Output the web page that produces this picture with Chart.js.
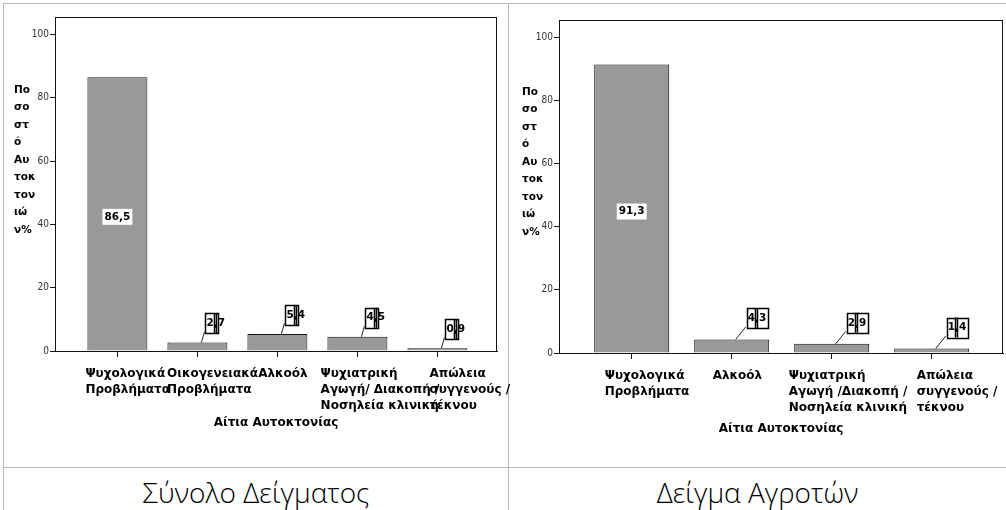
<!DOCTYPE html>
<html>
<head>
<meta charset="utf-8">
<script src="https://cdn.jsdelivr.net/npm/chart.js@4.4.1/dist/chart.umd.min.js"></script>
<style>
  body { margin: 0; background: #fff; width: 1006px; height: 510px; overflow: hidden; position: relative; }
  canvas { position: absolute; left: 0; top: 0; }
  .rule { position: absolute; background: #b9b9b9; }
  .caption { position: absolute; top: 475px; height: 34px; line-height: 34px; text-align: center;
             font-family: 'Open Sans', 'Noto Sans', sans-serif; font-weight: 300; font-size: 28px; color: #000; }
</style>
</head>
<body>
<div class="rule" style="left:3px;top:3px;width:1003px;height:1px"></div>
<div class="rule" style="left:3px;top:3px;width:1px;height:507px"></div>
<div class="rule" style="left:508px;top:3px;width:1px;height:507px"></div>
<div class="rule" style="left:3px;top:467px;width:1003px;height:1px"></div>
<div class="caption" id="cap0" style="left:4px;width:504px"></div>
<div class="caption" id="cap1" style="left:509px;width:497px"></div>
<canvas id="totalChart" width="1006" height="510"></canvas>
<canvas id="farmerChart" width="1006" height="510"></canvas>
<script>
// data
const totalCategories = [
  ['Ψυχολογικά', 'Προβλήματα'],
  ['Οικογενειακά', 'Προβλήματα'],
  ['Αλκοόλ'],
  ['Ψυχιατρική', 'Αγωγή/ Διακοπή /', 'Νοσηλεία κλινική'],
  ['Απώλεια', 'συγγενούς /', 'τέκνου'],
]
const totalValues = [86.5, 2.7, 5.4, 4.5, 0.9]

const farmerCategories = [
  ['Ψυχολογικά', 'Προβλήματα'],
  ['Αλκοόλ'],
  ['Ψυχιατρική', 'Αγωγή /Διακοπή /', 'Νοσηλεία κλινική'],
  ['Απώλεια', 'συγγενούς /', 'τέκνου'],
]
const farmerValues = [91.3, 4.3, 2.9, 1.4]

const yTitleLines = ['Πο', 'σο', 'στ', 'ό', 'Αυ', 'τοκ', 'τον', 'ιώ', 'ν%']
const xTitle = 'Αίτια Αυτοκτονίας'
const panelCaptions = ['Σύνολο Δείγματος', 'Δείγμα Αγροτών']

document.getElementById('cap0').textContent = panelCaptions[0]
document.getElementById('cap1').textContent = panelCaptions[1]

const boldFont = "'DejaVu Sans', 'Noto Sans', sans-serif"

// placement of each panel on the page
const totalLayout = {
  padding: { left: 0, right: 509, top: 17, bottom: 79 },
  yWidth: 55, xMin: -0.78, xMax: 4.745, yMax: 105.5, labelBoxHeight: 74,
  labelAt: [-0.4, 0.62, 1.76, 2.54, 3.9],
  yTitleX: 14, yTitleY: 90,
  noteDx: 9, noteDy: -19, noteBoxChars: 2,
}
const farmerLayout = {
  padding: { left: 0, right: 3, top: 20, bottom: 73 },
  yWidth: 559, xMin: -0.727, xMax: 3.713, yMax: 105.4, labelBoxHeight: 78,
  labelAt: [-0.27, 0.81, 1.57, 2.85],
  yTitleX: 522, yTitleY: 92,
  noteDx: 16, noteDy: -21, noteBoxChars: 3,
}

function extrasPlugin(lay) {
  return {
    id: 'panelExtras',
    afterDatasetsDraw(chart) {
      const ctx = chart.ctx
      const area = chart.chartArea
      ctx.save()

      // plot frame
      ctx.strokeStyle = '#111'
      ctx.lineWidth = 1
      ctx.strokeRect(Math.round(area.left) + 0.5, Math.round(area.top) + 0.5,
        Math.round(area.right - area.left) - 1, Math.round(area.bottom - area.top))

      // stacked y-axis title
      ctx.fillStyle = '#000'
      ctx.font = 'bold 10.5px ' + boldFont
      ctx.textAlign = 'left'
      ctx.textBaseline = 'middle'
      yTitleLines.forEach((line, i) => {
        ctx.fillText(line, lay.yTitleX, lay.yTitleY + i * 17.5)
      })

      // value labels
      ctx.font = 'bold 10.5px ' + boldFont
      const meta = chart.getDatasetMeta(0)
      meta.data.forEach((bar, i) => {
        const v = chart.data.datasets[0].data[i].y
        const txt = v.toFixed(1).replace('.', ',')
        const w = ctx.measureText(txt).width
        if (v > 20) {
          const cy = (bar.y + bar.base) / 2 + 3
          ctx.fillStyle = '#fff'
          ctx.fillRect(bar.x - w / 2 - 2, cy - 8, w + 4, 16)
          ctx.fillStyle = '#000'
          ctx.textAlign = 'center'
          ctx.fillText(txt, bar.x, cy)
        } else {
          const tx = bar.x + lay.noteDx
          const cy = bar.y + lay.noteDy
          ctx.strokeStyle = '#222'
          ctx.lineWidth = 1
          ctx.beginPath()
          ctx.moveTo(bar.x + 4, bar.y)
          ctx.lineTo(tx - 2, cy + 8.5)
          ctx.stroke()
          ctx.fillStyle = '#000'
          ctx.textAlign = 'left'
          ctx.fillText(txt, tx, cy)
          const firstW = ctx.measureText(txt.slice(0, 1)).width
          const boxW = ctx.measureText(txt.slice(0, lay.noteBoxChars)).width
          ctx.strokeStyle = '#000'
          ctx.lineWidth = 1.5
          ctx.strokeRect(Math.round(tx - 1) + 0.5, Math.round(cy - 10) + 0.5, Math.round(boxW + 2), 20)
          ctx.beginPath()
          ctx.moveTo(Math.round(tx + firstW) + 0.5, cy - 10)
          ctx.lineTo(Math.round(tx + firstW) + 0.5, cy + 10)
          ctx.moveTo(Math.round(tx + firstW) + 2.5, cy - 10)
          ctx.lineTo(Math.round(tx + firstW) + 2.5, cy + 10)
          ctx.stroke()
        }
      })
      ctx.restore()
    },
  }
}

function drawPanel(canvasId, categories, values, lay) {
  new Chart(document.getElementById(canvasId).getContext('2d'), {
    type: 'bar',
    data: {
      datasets: [
        {
          data: values.map((v, i) => ({ x: i, y: v })),
          backgroundColor: '#999999',
          borderColor: '#111',
          borderWidth: 1,
          barPercentage: 0.75,
          categoryPercentage: 1,
        },
      ],
    },
    options: {
      responsive: false,
      animation: false,
      devicePixelRatio: 1,
      layout: { padding: lay.padding },
      plugins: { legend: { display: false }, tooltip: { enabled: false } },
      scales: {
        x: {
          type: 'linear',
          position: 'bottom',
          weight: 0,
          offset: false,
          min: lay.xMin,
          max: lay.xMax,
          ticks: { display: false, stepSize: 1, includeBounds: false, autoSkip: false },
          grid: { offset: false, drawOnChartArea: false, drawTicks: true, tickLength: 6, tickColor: '#111' },
          border: { display: true, color: '#111', width: 1 },
          afterFit: (scale) => { scale.height = 6 },
        },
        xl: {
          type: 'linear',
          position: 'bottom',
          weight: 1,
          offset: false,
          min: lay.xMin,
          max: lay.xMax,
          afterBuildTicks: (scale) => { scale.ticks = lay.labelAt.map((v) => ({ value: v })) },
          ticks: {
            align: 'start',
            autoSkip: false,
            maxRotation: 0,
            padding: 1,
            color: '#000',
            font: { family: boldFont, size: 12, weight: 'bold', lineHeight: '16px' },
            callback: (value, index) => categories[index],
          },
          grid: { display: false, offset: false },
          border: { display: false },
          title: {
            display: true,
            text: xTitle,
            color: '#000',
            padding: 0,
            font: { family: boldFont, size: 12, weight: 'bold', lineHeight: '16px' },
          },
          afterFit: (scale) => { scale.height = lay.labelBoxHeight },
        },
        y: {
          min: 0,
          max: lay.yMax,
          ticks: {
            stepSize: 20,
            includeBounds: false,
            padding: 1,
            color: '#333',
            font: { family: "'Liberation Sans Narrow', 'DejaVu Sans Condensed', sans-serif", size: 10 },
          },
          grid: { drawOnChartArea: false, tickLength: 5, tickColor: '#111' },
          border: { display: true, color: '#111', width: 1 },
          afterFit: (scale) => { scale.width = lay.yWidth },
        },
      },
    },
    plugins: [extrasPlugin(lay)],
  })
}

drawPanel('totalChart', totalCategories, totalValues, totalLayout)
drawPanel('farmerChart', farmerCategories, farmerValues, farmerLayout)
</script>
</body>
</html>
